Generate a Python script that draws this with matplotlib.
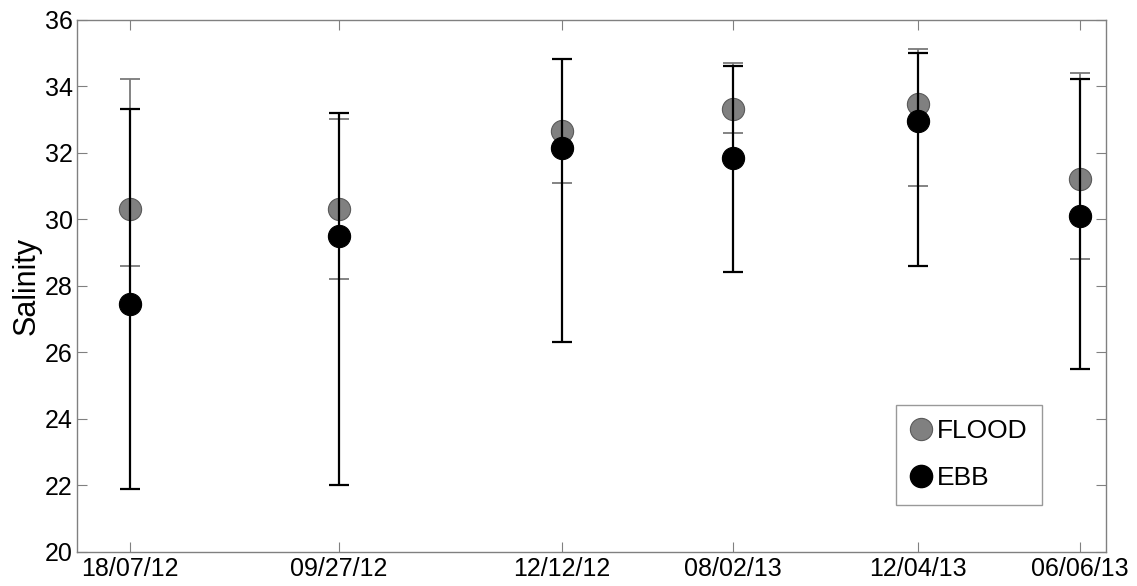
"""Salinity at flood vs ebb tide for each survey date, with min/max range bars."""
from datetime import date
import matplotlib
matplotlib.use("Agg")
import matplotlib.pyplot as plt
import matplotlib.dates as mdates
from matplotlib.lines import Line2D

plt.rcParams["font.family"] = ["Liberation Sans", "DejaVu Sans"]

# survey dates and their printed labels
dates = [date(2012, 7, 18), date(2012, 9, 27), date(2012, 12, 12),
         date(2013, 2, 8), date(2013, 4, 12), date(2013, 6, 6)]
date_labels = ["18/07/12", "09/27/12", "12/12/12", "08/02/13", "12/04/13", "06/06/13"]

# flood tide: mean, min, max
flood_mean = [30.3, 30.3, 32.65, 33.3, 33.45, 31.2]
flood_lo = [28.6, 28.2, 31.1, 32.6, 31.0, 28.8]
flood_hi = [34.2, 33.0, 34.8, 34.7, 35.1, 34.4]

# ebb tide: mean, min, max
ebb_mean = [27.45, 29.5, 32.15, 31.85, 32.95, 30.1]
ebb_lo = [21.9, 22.0, 26.3, 28.4, 28.6, 25.5]
ebb_hi = [33.3, 33.2, 34.8, 34.6, 35.0, 34.2]

GREY = "#808080"
x = mdates.date2num(dates)

fig = plt.figure(figsize=(11.37, 5.86), dpi=100)
ax = fig.add_axes([0.0677, 0.0585, 0.905, 0.9082])

def add_series(mean, lo, hi, line_c, face_c, edge_c, lw, z):
    err = [[m - l for m, l in zip(mean, lo)], [h - m for m, h in zip(mean, hi)]]
    ax.errorbar(x, mean, yerr=err, fmt="none", ecolor=line_c, elinewidth=lw,
                capsize=7, capthick=lw, zorder=z)
    ax.plot(x, mean, "o", ms=16, mfc=face_c, mec=edge_c, mew=0.8, zorder=z + 1)

add_series(flood_mean, flood_lo, flood_hi, "#7a7a7a", GREY, "#5a5a5a", 1.3, 2)
add_series(ebb_mean, ebb_lo, ebb_hi, "black", "black", "black", 1.6, 4)

ax.set_xlim(mdates.date2num(date(2012, 6, 30)), mdates.date2num(date(2013, 6, 15)))
ax.set_ylim(20, 36)
ax.set_xticks(x)
ax.set_xticklabels(date_labels)
ax.set_yticks(range(20, 37, 2))
ax.tick_params(direction="in", top=True, right=True, length=7, width=0.8,
               color=GREY, labelsize=18, pad=3)
ax.tick_params(axis="x", pad=4)
for s in ax.spines.values():
    s.set_color(GREY)
    s.set_linewidth(1.0)
ax.set_ylabel("Salinity", fontsize=22, labelpad=2)

handles = [Line2D([], [], ls="none", marker="o", ms=16, mfc=GREY, mec="#5a5a5a", mew=0.8),
           Line2D([], [], ls="none", marker="o", ms=16, mfc="black", mec="black")]
leg = ax.legend(handles, ["FLOOD", "EBB"], loc="lower left",
                bbox_to_anchor=(0.796, 0.088), fontsize=19, frameon=True,
                fancybox=False, handlelength=0.8, handletextpad=0.2,
                borderpad=0.55, labelspacing=0.88, borderaxespad=0)
leg.get_frame().set_edgecolor(GREY)
leg.get_frame().set_linewidth(1.0)

fig.savefig("out.png", dpi=100)
